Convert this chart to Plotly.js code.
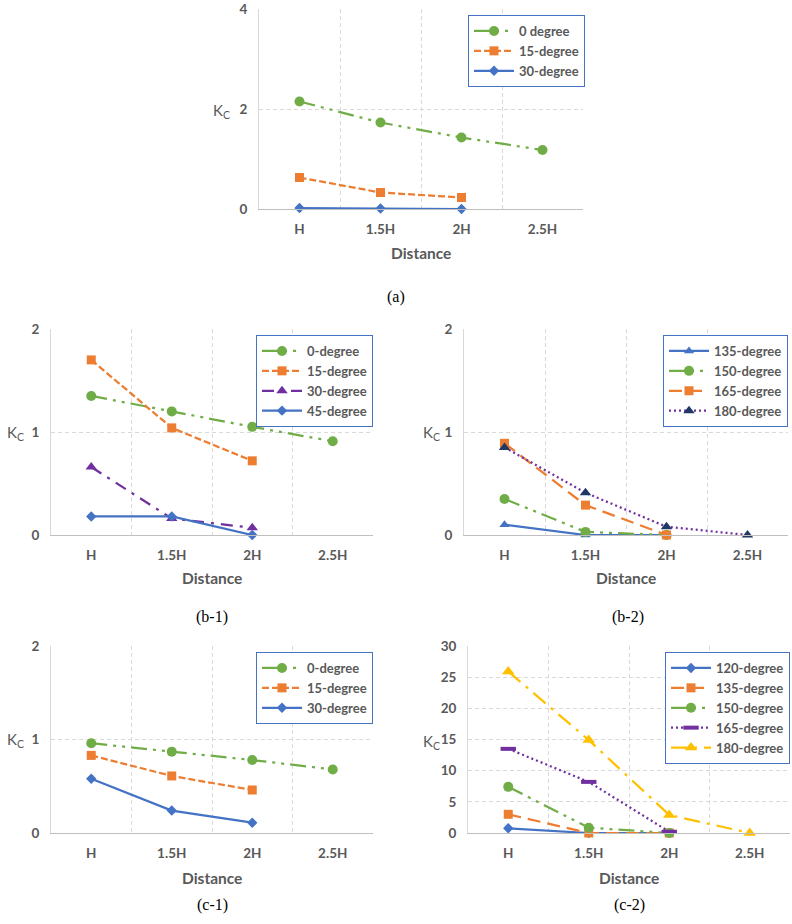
<!DOCTYPE html>
<html>
<head>
<meta charset="utf-8">
<script src="https://cdn.plot.ly/plotly-3.0.1.min.js"></script>
<style>
  html, body { margin: 0; padding: 0; background: #fff; }
  #chart { width: 792px; height: 924px; }
</style>
</head>
<body>
<div id="chart"></div>
<script>
// Distances (multiples of H) and their tick labels
const distValues = [1, 1.5, 2, 2.5];
const distLabels = ['H', '1.5H', '2H', '2.5H'];

// (a)
const aDeg0 = [2.15, 1.73, 1.43, 1.18];
const aDeg15 = [0.63, 0.33, 0.23];
const aDeg30 = [0.02, 0.01, 0.0];

// (b-1)
const b1Deg0 = [1.35, 1.20, 1.05, 0.91];
const b1Deg15 = [1.70, 1.04, 0.72];
const b1Deg30 = [0.66, 0.16, 0.07];
const b1Deg45 = [0.18, 0.18, 0.0];

// (b-2)
const b2Deg135 = [0.10, 0.0, 0.0];
const b2Deg150 = [0.35, 0.03, 0.0];
const b2Deg165 = [0.89, 0.29, 0.0];
const b2Deg180 = [0.85, 0.41, 0.08, 0.0];

// (c-1)
const c1Deg0 = [0.96, 0.87, 0.78, 0.68];
const c1Deg15 = [0.83, 0.61, 0.46];
const c1Deg30 = [0.58, 0.24, 0.11];

// (c-2)
const c2Deg120 = [0.75, 0.0, 0.0];
const c2Deg135 = [3.0, 0.0, 0.0];
const c2Deg150 = [7.4, 0.85, 0.0];
const c2Deg165 = [13.5, 8.2, 0.2];
const c2Deg180 = [25.9, 14.9, 2.9, 0.0];

const W = 792, H = 924;
const px = v => v / W;
const py = v => 1 - v / H;

const GRAY = '#595959';
const FONT = 'Lato, "Open Sans", sans-serif';

// line/marker styles like the Excel originals
const styles = {
  green:   { color: '#70AD47', dash: '16px,6px,3px,6px,3px,6px', symbol: 'circle', size: 10 },
  orange:  { color: '#ED7D31', dash: '7px,3px', symbol: 'square', size: 9 },
  orangeL: { color: '#ED7D31', dash: '13px,7px', symbol: 'square', size: 9 },
  blue:    { color: '#4472C4', dash: 'solid', symbol: 'diamond', size: 8 },
  blueTri: { color: '#4472C4', dash: 'solid', symbol: 'triangle-up', size: 9 },
  purple:  { color: '#7030A0', dash: '12px,7px,3px,7px', symbol: 'triangle-up', size: 10 },
  dotted:  { color: '#7030A0', dash: '2px,3px', symbol: 'triangle-up', size: 10, mcolor: '#203864' },
  dotDash: { color: '#7030A0', dash: '2px,3px', symbol: 'line-ew', size: 11, open: true },
  yellow:  { color: '#FFC000', dash: '16px,7px,3px,7px', symbol: 'triangle-up', size: 11 }
};

function mk(name, y, st, n, legend) {
  const marker = { symbol: st.symbol, size: st.size, color: st.mcolor || st.color };
  if (st.open) marker.line = { width: 4, color: st.color };
  return {
    x: distValues.slice(0, y.length),
    y: y,
    name: name,
    type: 'scatter',
    mode: 'lines+markers',
    xaxis: 'x' + (n === 1 ? '' : n),
    yaxis: 'y' + (n === 1 ? '' : n),
    legend: legend,
    cliponaxis: false,
    line: { color: st.color, width: 2.25, dash: st.dash },
    marker: marker
  };
}

const data = [
  mk('0 degree', aDeg0, styles.green, 1, 'legend'),
  mk('15-degree', aDeg15, styles.orange, 1, 'legend'),
  mk('30-degree', aDeg30, styles.blue, 1, 'legend'),

  mk('0-degree', b1Deg0, styles.green, 2, 'legend2'),
  mk('15-degree', b1Deg15, styles.orange, 2, 'legend2'),
  mk('30-degree', b1Deg30, styles.purple, 2, 'legend2'),
  mk('45-degree', b1Deg45, styles.blue, 2, 'legend2'),

  mk('135-degree', b2Deg135, styles.blueTri, 3, 'legend3'),
  mk('150-degree', b2Deg150, styles.green, 3, 'legend3'),
  mk('165-degree', b2Deg165, styles.orangeL, 3, 'legend3'),
  mk('180-degree', b2Deg180, styles.dotted, 3, 'legend3'),

  mk('0-degree', c1Deg0, styles.green, 4, 'legend4'),
  mk('15-degree', c1Deg15, styles.orange, 4, 'legend4'),
  mk('30-degree', c1Deg30, styles.blue, 4, 'legend4'),

  mk('120-degree', c2Deg120, styles.blue, 5, 'legend5'),
  mk('135-degree', c2Deg135, styles.orangeL, 5, 'legend5'),
  mk('150-degree', c2Deg150, styles.green, 5, 'legend5'),
  mk('165-degree', c2Deg165, styles.dotDash, 5, 'legend5'),
  mk('180-degree', c2Deg180, styles.yellow, 5, 'legend5')
];

// panel boxes in pixels: left, right, top, bottom, y max, y step
const panels = [
  { l: 259, r: 583, t: 9,   b: 209, ymax: 4,  dy: 2 },
  { l: 51,  r: 373, t: 329, b: 535, ymax: 2,  dy: 1 },
  { l: 464, r: 788, t: 329, b: 535, ymax: 2,  dy: 1 },
  { l: 51,  r: 373, t: 646, b: 833, ymax: 2,  dy: 1 },
  { l: 468, r: 790, t: 646, b: 833, ymax: 30, dy: 5 }
];

const layout = {
  width: W,
  height: H,
  margin: { l: 0, r: 0, t: 0, b: 0 },
  paper_bgcolor: '#fff',
  plot_bgcolor: '#fff',
  font: { family: FONT, color: GRAY },
  annotations: [],
  showlegend: true
};

const tickFont = { family: FONT, size: 13.5, color: GRAY, weight: 'bold' };

panels.forEach((p, i) => {
  const n = i + 1;
  const sfx = n === 1 ? '' : n;
  layout['xaxis' + sfx] = {
    domain: [px(p.l), px(p.r)],
    anchor: 'y' + sfx,
    range: [0.75, 2.75],
    tickvals: distValues,
    ticktext: distLabels,
    ticks: '',
    showgrid: false,
    zeroline: false,
    showline: true,
    linecolor: '#BFBFBF',
    linewidth: 1,
    tickfont: tickFont,
    ticklabelstandoff: 8,
    fixedrange: true,
    minor: {
      tickvals: [1.25, 1.75, 2.25],
      showgrid: true,
      gridcolor: '#D9D9D9',
      griddash: '4px,3px',
      gridwidth: 1,
      ticks: ''
    }
  };
  layout['yaxis' + sfx] = {
    domain: [py(p.b), py(p.t)],
    anchor: 'x' + sfx,
    range: [0, p.ymax],
    dtick: p.dy,
    tick0: 0,
    ticks: '',
    showgrid: true,
    gridcolor: '#D9D9D9',
    griddash: '4px,3px',
    zeroline: false,
    showline: true,
    linecolor: '#D9D9D9',
    tickfont: tickFont,
    ticklabelstandoff: 8,
    fixedrange: true
  };
  const legendKey = n === 1 ? 'legend' : 'legend' + n;
  layout[legendKey] = {
    x: px(n === 1 ? 585 : p.r),
    y: py(n === 1 ? 15 : p.t + 6),
    xanchor: 'right',
    yanchor: 'top',
    bgcolor: '#fff',
    bordercolor: '#4472C4',
    borderwidth: 1,
    tracegroupgap: 0,
    itemwidth: 40,
    font: { family: FONT, size: 13, color: GRAY, weight: 'bold' }
  };
});

// Axis titles, K_C labels and captions
const ann = (x, y, text, font) => layout.annotations.push({
  xref: 'paper', yref: 'paper', x: px(x), y: py(y),
  xanchor: 'center', yanchor: 'middle', showarrow: false, text: text, font: font
});
const titleFont = { family: FONT, size: 15.5, color: GRAY, weight: 'bold' };
const kFont = { family: FONT, size: 15, color: GRAY };
const capFont = { family: '"Liberation Serif", "Times New Roman", serif', size: 16, color: '#000' };

ann(421, 253, 'Distance', titleFont);
ann(212, 578, 'Distance', titleFont);
ann(626, 578, 'Distance', titleFont);
ann(212, 878, 'Distance', titleFont);
ann(629, 878, 'Distance', titleFont);

ann(221, 111, 'K<sub>C</sub>', kFont);
ann(15, 433, 'K<sub>C</sub>', kFont);
ann(431, 433, 'K<sub>C</sub>', kFont);
ann(15, 740, 'K<sub>C</sub>', kFont);
ann(431, 742, 'K<sub>C</sub>', kFont);

ann(396, 297, '(a)', capFont);
ann(212, 617, '(b-1)', capFont);
ann(628, 617, '(b-2)', capFont);
ann(212, 905, '(c-1)', capFont);
ann(629, 905, '(c-2)', capFont);

Plotly.newPlot('chart', data, layout, { staticPlot: true, displayModeBar: false });
</script>
</body>
</html>
